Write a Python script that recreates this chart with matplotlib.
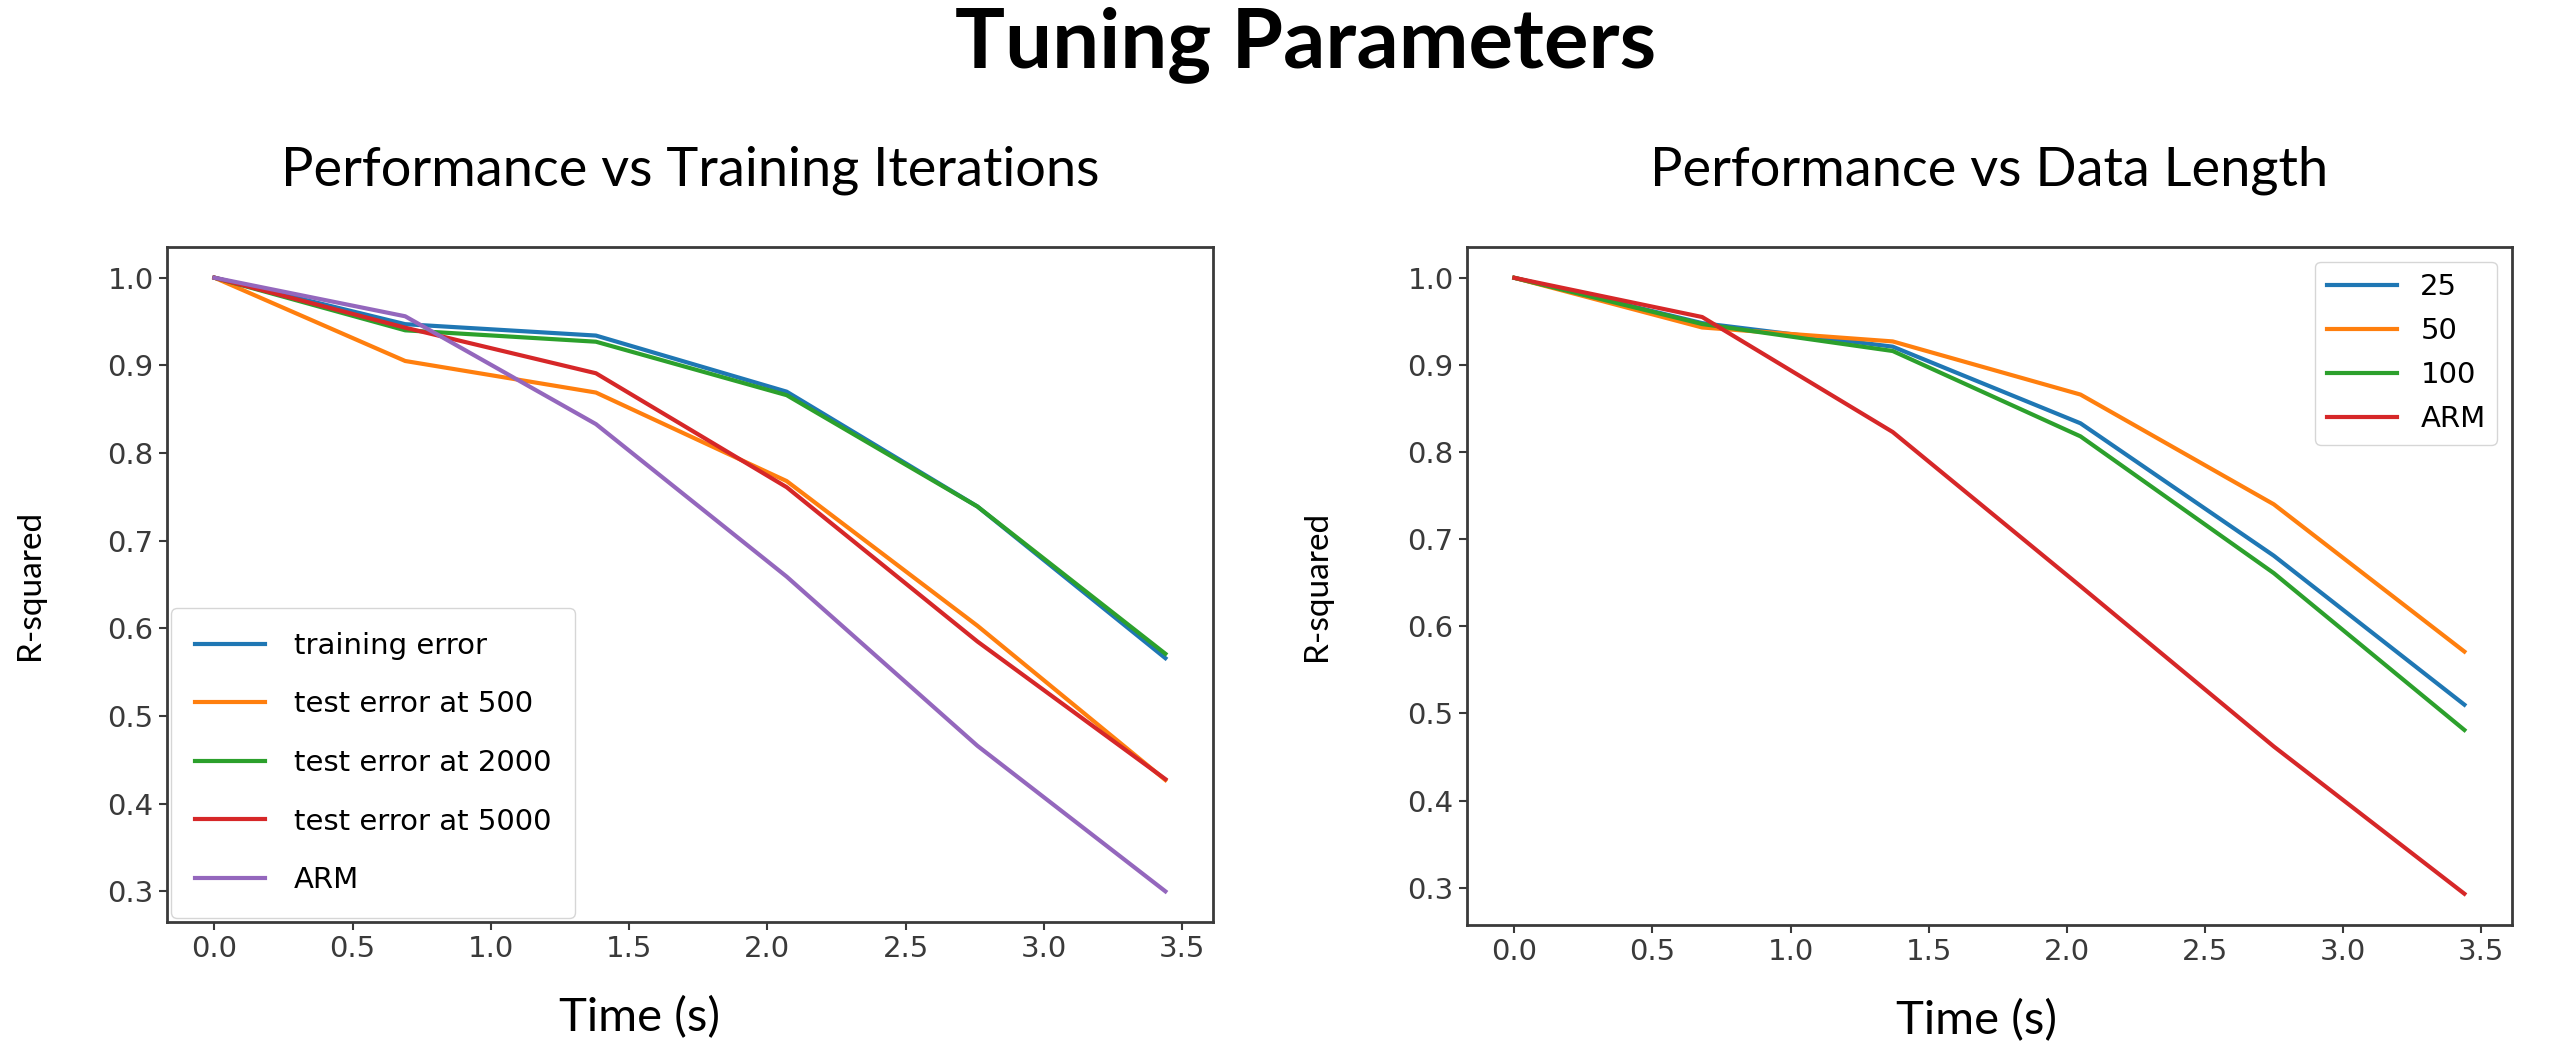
import numpy as np
import matplotlib.pyplot as plt

# tiempos (s)
t = [0.0, 0.69, 1.38, 2.07, 2.76, 3.44]

# performance vs training iterations
train_err = [1.0, 0.947, 0.934, 0.870, 0.739, 0.566]
test_500 = [1.0, 0.905, 0.869, 0.768, 0.603, 0.427]
test_2000 = [1.0, 0.940, 0.927, 0.866, 0.739, 0.571]
test_5000 = [1.0, 0.943, 0.891, 0.761, 0.585, 0.428]
arm_iter = [1.0, 0.956, 0.833, 0.659, 0.466, 0.300]
iter_labels = ['training error', 'test error at 500', 'test error at 2000',
               'test error at 5000', 'ARM']

# performance vs data length
t2 = [0.0, 0.68, 1.37, 2.05, 2.75, 3.44]
len_25 = [1.0, 0.948, 0.921, 0.833, 0.681, 0.510]
len_50 = [1.0, 0.943, 0.927, 0.866, 0.740, 0.571]
len_100 = [1.0, 0.947, 0.916, 0.818, 0.661, 0.481]
arm_len = [1.0, 0.955, 0.823, 0.646, 0.462, 0.293]
len_labels = ['25', '50', '100', 'ARM']

titulo_font = 'Lato'
tick_col = '#3a3a3a'

fig = plt.figure(figsize=(25.6, 10.53), dpi=100)
ax1 = fig.add_axes([0.0652, 0.1244, 0.4086, 0.641])
ax2 = fig.add_axes([0.5730, 0.1220, 0.4082, 0.6434])

fig.text(0.51, 0.936, 'Tuning Parameters', ha='center', va='baseline',
         fontsize=60, fontweight='bold', family=titulo_font)

#%% izquierda
for serie, lab in zip([train_err, test_500, test_2000, test_5000, arm_iter], iter_labels):
    ax1.plot(t, serie, lw=3, label=lab)
ax1.legend(loc='lower left', fontsize=21, handlelength=2.4, handletextpad=1.0,
           labelspacing=1.05, borderpad=0.8, borderaxespad=0.15)
ax1.set_title('Performance vs Training Iterations', fontsize=39, family=titulo_font, pad=44)

#%% derecha
for serie, lab in zip([len_25, len_50, len_100, arm_len], len_labels):
    ax2.plot(t2, serie, lw=3, label=lab)
ax2.legend(loc='upper right', fontsize=21, handlelength=2.4, labelspacing=0.55,
           borderaxespad=0.5)
ax2.set_title('Performance vs Data Length', fontsize=39, family=titulo_font, pad=44)

for ax, ylc, xlc in [(ax1, -0.117, 0.452), (ax2, -0.129, 0.488)]:
    ax.set_xlabel('Time (s)', fontsize=34, family=titulo_font)
    ax.xaxis.set_label_coords(xlc, -0.11)
    ax.set_ylabel('R-squared', fontsize=24, family=titulo_font)
    ax.yaxis.set_label_coords(ylc, 0.5)
    ax.set_xticks(np.arange(0, 3.51, 0.5))
    ax.set_yticks(np.arange(0.3, 1.01, 0.1))
    ax.tick_params(labelsize=21, colors=tick_col, length=6, width=1.5)
    for sp in ax.spines.values():
        sp.set_color(tick_col)
        sp.set_linewidth(2)

fig.savefig('out.png', dpi=100)
